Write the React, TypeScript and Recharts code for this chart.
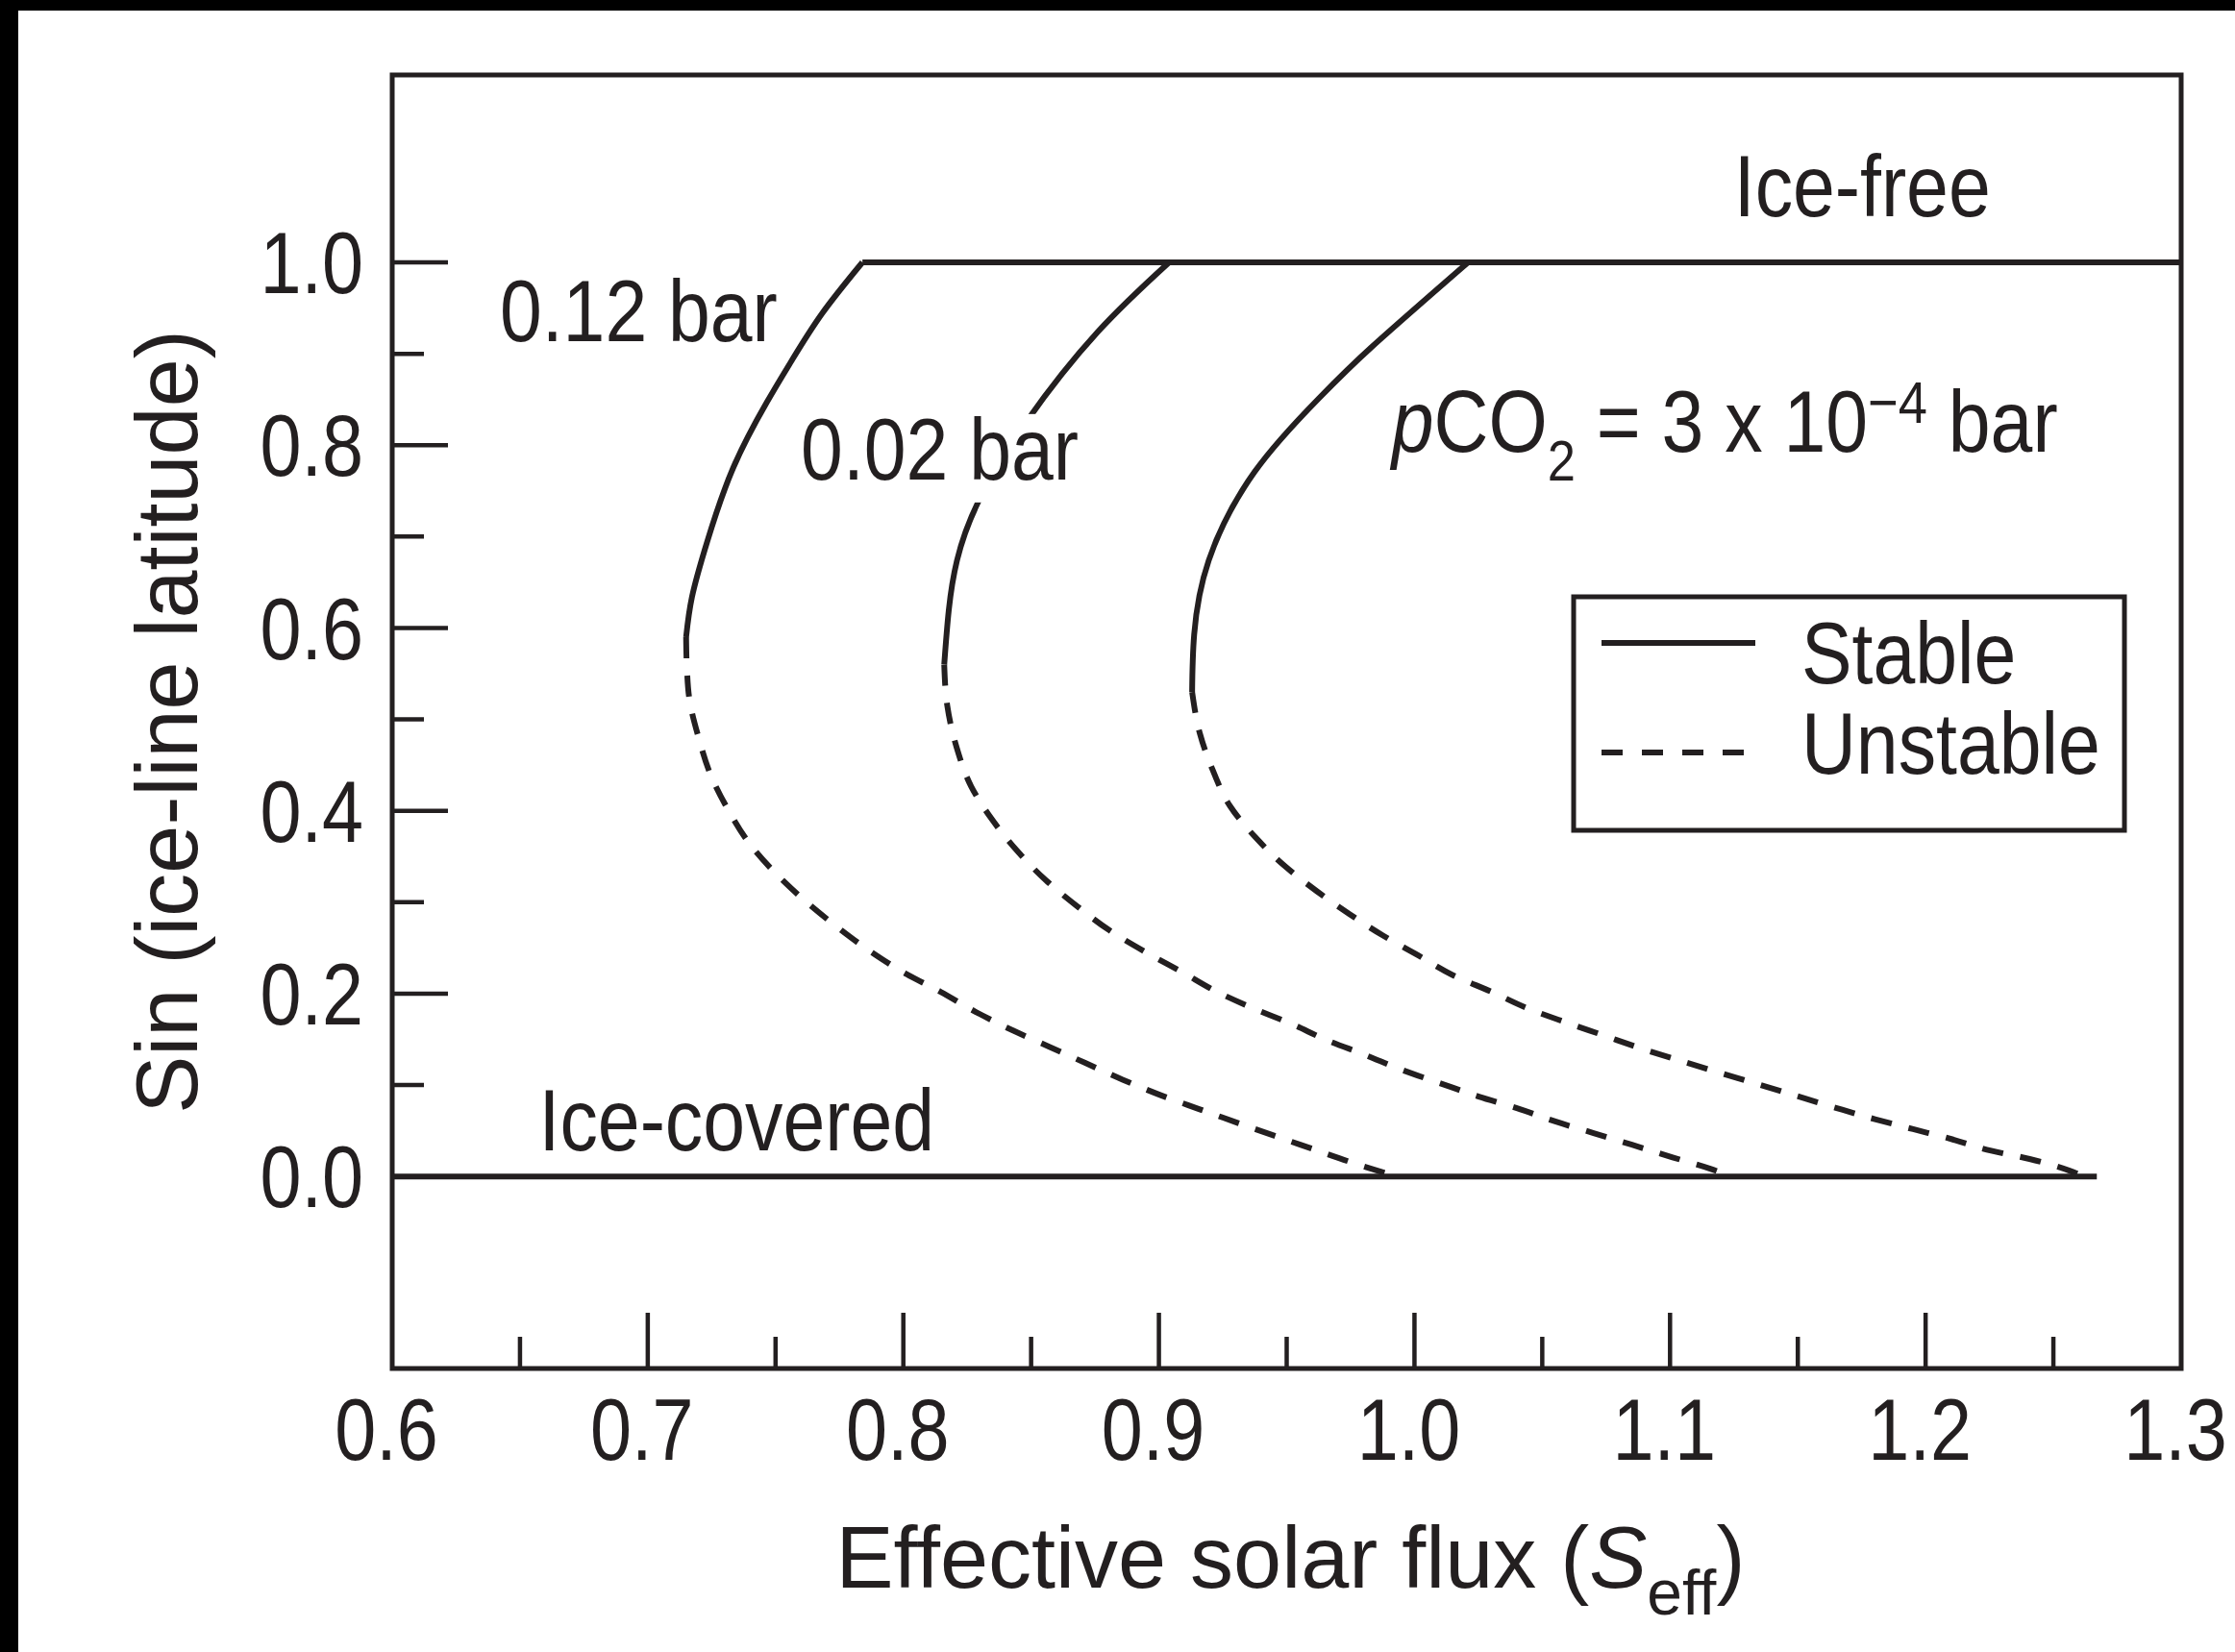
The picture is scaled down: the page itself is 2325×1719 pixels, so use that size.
import React from "react";
import { LineChart, Line, XAxis, YAxis, ReferenceArea, ReferenceDot, Legend } from "recharts";

const INK = "#231f20";
const FONT = "'Liberation Sans', Arial, sans-serif";
const FONT_SIZE = 90;
const DASH = "22 18";
// labels and tick numbers are set in a condensed face; emulate it by squeezing horizontally
const LABEL_SQUEEZE = 0.875;
const TICK_SQUEEZE = 0.86;

// Ice-line solutions [Seff, sin(latitude)] for each pCO2, split at the turning point
const stable012: [number, number][] = [
	[0.784, 1.0], [0.7682, 0.944], [0.7562, 0.892], [0.7466, 0.847], [0.7334, 0.775],
	[0.7232, 0.694], [0.7173, 0.634], [0.715, 0.59],
];
const unstable012: [number, number][] = [
	[0.715, 0.59], [0.7153, 0.557], [0.7163, 0.522], [0.7198, 0.481], [0.7248, 0.438],
	[0.7317, 0.4], [0.7404, 0.362], [0.751, 0.329], [0.7622, 0.3], [0.7741, 0.273],
	[0.7878, 0.245], [0.8009, 0.222], [0.8146, 0.202], [0.8284, 0.18], [0.8427, 0.16],
	[0.8571, 0.142], [0.8714, 0.124], [0.8858, 0.106], [0.9007, 0.089], [0.916, 0.0735],
	[0.931, 0.0585], [0.9453, 0.0445], [0.9603, 0.03], [0.9753, 0.0155], [0.993, 0],
];

const stable002: [number, number][] = [
	[0.904, 1.0], [0.8761, 0.924], [0.8485, 0.827], [0.8293, 0.738], [0.821, 0.674],
	[0.8178, 0.62], [0.816, 0.56],
];
const unstable002: [number, number][] = [
	[0.816, 0.56], [0.8172, 0.515], [0.8209, 0.469], [0.8265, 0.427], [0.8346, 0.391],
	[0.8446, 0.356], [0.8558, 0.324], [0.8683, 0.295], [0.8808, 0.269], [0.8945, 0.246],
	[0.9091, 0.2236], [0.9229, 0.2018], [0.9372, 0.1837], [0.9516, 0.1673], [0.9659, 0.149],
	[0.9809, 0.1328], [0.9952, 0.1165], [1.0102, 0.1019], [1.0252, 0.0874], [1.0401, 0.0748],
	[1.0551, 0.0602], [1.0701, 0.0475], [1.0851, 0.0347], [1.101, 0.021], [1.116, 0.0083],
	[1.124, 0],
];

const stable0003: [number, number][] = [
	[1.021, 1.0], [0.9835, 0.908], [0.9625, 0.851], [0.9375, 0.771], [0.9195, 0.674],
	[0.9138, 0.593], [0.913, 0.53],
];
const unstable0003: [number, number][] = [
	[0.913, 0.53], [0.916, 0.485], [0.921, 0.445], [0.9279, 0.405], [0.9378, 0.371],
	[0.9491, 0.34], [0.9616, 0.3125], [0.9746, 0.287], [0.9877, 0.2636], [1.0015, 0.2418],
	[1.0152, 0.22], [1.0302, 0.202], [1.0445, 0.1837], [1.0589, 0.169], [1.0738, 0.1546],
	[1.0888, 0.14], [1.1047, 0.1261], [1.1197, 0.1134], [1.1347, 0.1008], [1.1496, 0.0881],
	[1.1646, 0.0754], [1.1802, 0.0627], [1.1951, 0.0518], [1.2101, 0.041], [1.2257, 0.0282],
	[1.2407, 0.0192], [1.2563, 0.0065], [1.262, 0],
];

// Ice-free and ice-covered branches
const iceFree: [number, number][] = [[0.784, 1.0], [1.3, 1.0]];
const iceCovered: [number, number][] = [[0.6, 0], [1.267, 0]];

const xTicks = [0.6, 0.65, 0.7, 0.75, 0.8, 0.85, 0.9, 0.95, 1.0, 1.05, 1.1, 1.15, 1.2, 1.25, 1.3];
const yTicks = [0, 0.1, 0.2, 0.3, 0.4, 0.5, 0.6, 0.7, 0.8, 0.9, 1.0];
const X_DOMAIN: [number, number] = [0.6, 1.3];
const Y_DOMAIN: [number, number] = [-0.21, 1.205];

const labels = [
	{ id: "ice-free", x: 1.125, y: 1.0505, text: "Ice-free", mask: false },
	{ id: "ice-covered", x: 0.6574, y: 0.0282, text: "Ice-covered", mask: false },
	{ id: "p012", x: 0.6421, y: 0.9137, text: "0.12 bar", mask: false },
	{ id: "p002", x: 0.7599, y: 0.7626, text: "0.02 bar", mask: true },
];
const pco2Label = { x: 0.9911, y: 0.7926 };

const legendItems = [
	{ name: "Stable", dash: undefined as string | undefined },
	{ name: "Unstable", dash: "22 20" },
];

const toPoints = (pairs: [number, number][]) => pairs.map(([x, y]) => ({ x, y }));

const series = [
	{ id: "s012", data: stable012, dash: undefined, curve: "natural" },
	{ id: "u012", data: unstable012, dash: DASH, curve: "monotoneY" },
	{ id: "s002", data: stable002, dash: undefined, curve: "natural" },
	{ id: "u002", data: unstable002, dash: DASH, curve: "monotoneY" },
	{ id: "s0003", data: stable0003, dash: undefined, curve: "natural" },
	{ id: "u0003", data: unstable0003, dash: DASH, curve: "monotoneY" },
	{ id: "free", data: iceFree, dash: undefined, curve: "linear" },
	{ id: "covered", data: iceCovered, dash: undefined, curve: "linear" },
];

const textProps = { fontFamily: FONT, fontSize: FONT_SIZE, fill: INK };

// text drawn at (x, y), squeezed horizontally about its anchor
const Squeezed = ({ x, y, squeeze, anchor = "start", dy, children }: any) => (
	<text transform={`translate(${x} ${y}) scale(${squeeze} 1)`} dy={dy} textAnchor={anchor} {...textProps}>
		{children}
	</text>
);

const YTick = (props: any) => {
	const { x, y, payload } = props;
	const v = payload.value as number;
	const major = Math.round(v * 10) % 2 === 0;
	return (
		<g>
			<line x1={x} x2={x + (major ? 58 : 33)} y1={y} y2={y} stroke={INK} strokeWidth={4.5} />
			{major && (
				<Squeezed x={x - 30} y={y} dy={32} anchor="end" squeeze={TICK_SQUEEZE}>
					{v.toFixed(1)}
				</Squeezed>
			)}
		</g>
	);
};

const XTick = (props: any) => {
	const { x, y, payload } = props;
	const v = payload.value as number;
	const major = Math.round(v * 100) % 10 === 0;
	const edge = v <= 0.6 || v >= 1.3;
	return (
		<g>
			{!edge && <line x1={x} x2={x} y1={y} y2={y - (major ? 58 : 33)} stroke={INK} strokeWidth={4.5} />}
			{major && (
				<Squeezed x={x - 6} y={y} dy={95} anchor="middle" squeeze={TICK_SQUEEZE}>
					{v.toFixed(1)}
				</Squeezed>
			)}
		</g>
	);
};

const YTitle = (props: any) => {
	const { x, y, height } = props.viewBox;
	const cx = x - 3;
	const cy = y + height / 2;
	return (
		<text x={cx} y={cy} transform={`rotate(-90 ${cx} ${cy})`} textAnchor="middle" {...textProps}>
			Sin (ice-line latitude)
		</text>
	);
};

const XTitle = (props: any) => {
	const { x, y, width } = props.viewBox;
	return (
		<text x={x + width / 2 + 4} y={y + 228} textAnchor="middle" {...textProps}>
			Effective solar flux (<tspan fontStyle="italic">S</tspan>
			<tspan fontSize={66} dy={28}>eff</tspan>
			<tspan dy={-28}>)</tspan>
		</text>
	);
};

const StabilityKey = () => (
	<svg width={586} height={256} style={{ display: "block" }}>
		<rect x={3} y={3} width={573} height={243} fill="#fff" stroke={INK} strokeWidth={5} />
		{legendItems.map((item, i) => (
			<g key={item.name}>
				<line
					x1={32}
					x2={item.dash ? 180 : 192}
					y1={51 + i * 114}
					y2={51 + i * 114}
					stroke={INK}
					strokeWidth={6}
					strokeDasharray={item.dash}
				/>
				<Squeezed x={240} y={93 + i * 94} squeeze={LABEL_SQUEEZE}>
					{item.name}
				</Squeezed>
			</g>
		))}
	</svg>
);

export default function App() {
	return (
		<div style={{ position: "absolute", left: 0, top: 0, width: 2325, height: 1719, background: "#fff", overflow: "hidden" }}>
			<LineChart width={2325} height={1719} margin={{ top: 78, right: 56, bottom: 195, left: 208 }}>
				<XAxis
					type="number"
					dataKey="x"
					domain={X_DOMAIN}
					ticks={xTicks}
					interval={0}
					tickSize={0}
					tickMargin={0}
					axisLine={false}
					tickLine={false}
					tick={<XTick />}
					height={100}
					allowDataOverflow
					label={{ content: <XTitle /> }}
				/>
				<YAxis
					type="number"
					dataKey="y"
					domain={Y_DOMAIN}
					ticks={yTicks}
					interval={0}
					tickSize={0}
					tickMargin={0}
					axisLine={false}
					tickLine={false}
					tick={<YTick />}
					width={200}
					allowDataOverflow
					label={{ content: <YTitle /> }}
				/>
				<ReferenceArea
					x1={X_DOMAIN[0]}
					x2={X_DOMAIN[1]}
					y1={Y_DOMAIN[0]}
					y2={Y_DOMAIN[1]}
					fill="none"
					stroke={INK}
					strokeWidth={5}
					ifOverflow="visible"
				/>
				{series.map((s) => (
					<Line
						key={s.id}
						data={toPoints(s.data)}
						dataKey="y"
						type={s.curve as any}
						stroke={INK}
						strokeWidth={6}
						strokeDasharray={s.dash}
						dot={false}
						activeDot={false}
						isAnimationActive={false}
						legendType="none"
					/>
				))}
				{labels.map((l) => (
					<ReferenceDot
						key={l.id}
						x={l.x}
						y={l.y}
						r={0}
						shape={(p: any) => (
							<g>
								{l.mask && <rect x={p.cx - 8} y={p.cy - 68} width={292} height={92} fill="#fff" />}
								<Squeezed x={p.cx} y={p.cy} squeeze={LABEL_SQUEEZE}>
									{l.text}
								</Squeezed>
							</g>
						)}
					/>
				))}
				<ReferenceDot
					x={pco2Label.x}
					y={pco2Label.y}
					r={0}
					shape={(p: any) => (
						<Squeezed x={p.cx} y={p.cy} squeeze={LABEL_SQUEEZE}>
							<tspan fontStyle="italic">p</tspan>CO
							<tspan fontSize={60} dy={30}>2</tspan>
							<tspan dy={-30}> = 3 x 10</tspan>
							<tspan fontSize={62} dy={-30}>−4</tspan>
							<tspan dy={30}> bar</tspan>
						</Squeezed>
					)}
				/>
				<Legend
					content={<StabilityKey />}
					layout="vertical"
					align="center"
					verticalAlign="middle"
					wrapperStyle={{ left: 1634, top: 618, width: 586, height: 256 }}
				/>
			</LineChart>
			<div style={{ position: "absolute", left: 0, top: 0, width: 2325, height: 11, background: "#000" }} />
			<div style={{ position: "absolute", left: 0, top: 0, width: 19, height: 1719, background: "#000" }} />
		</div>
	);
}
